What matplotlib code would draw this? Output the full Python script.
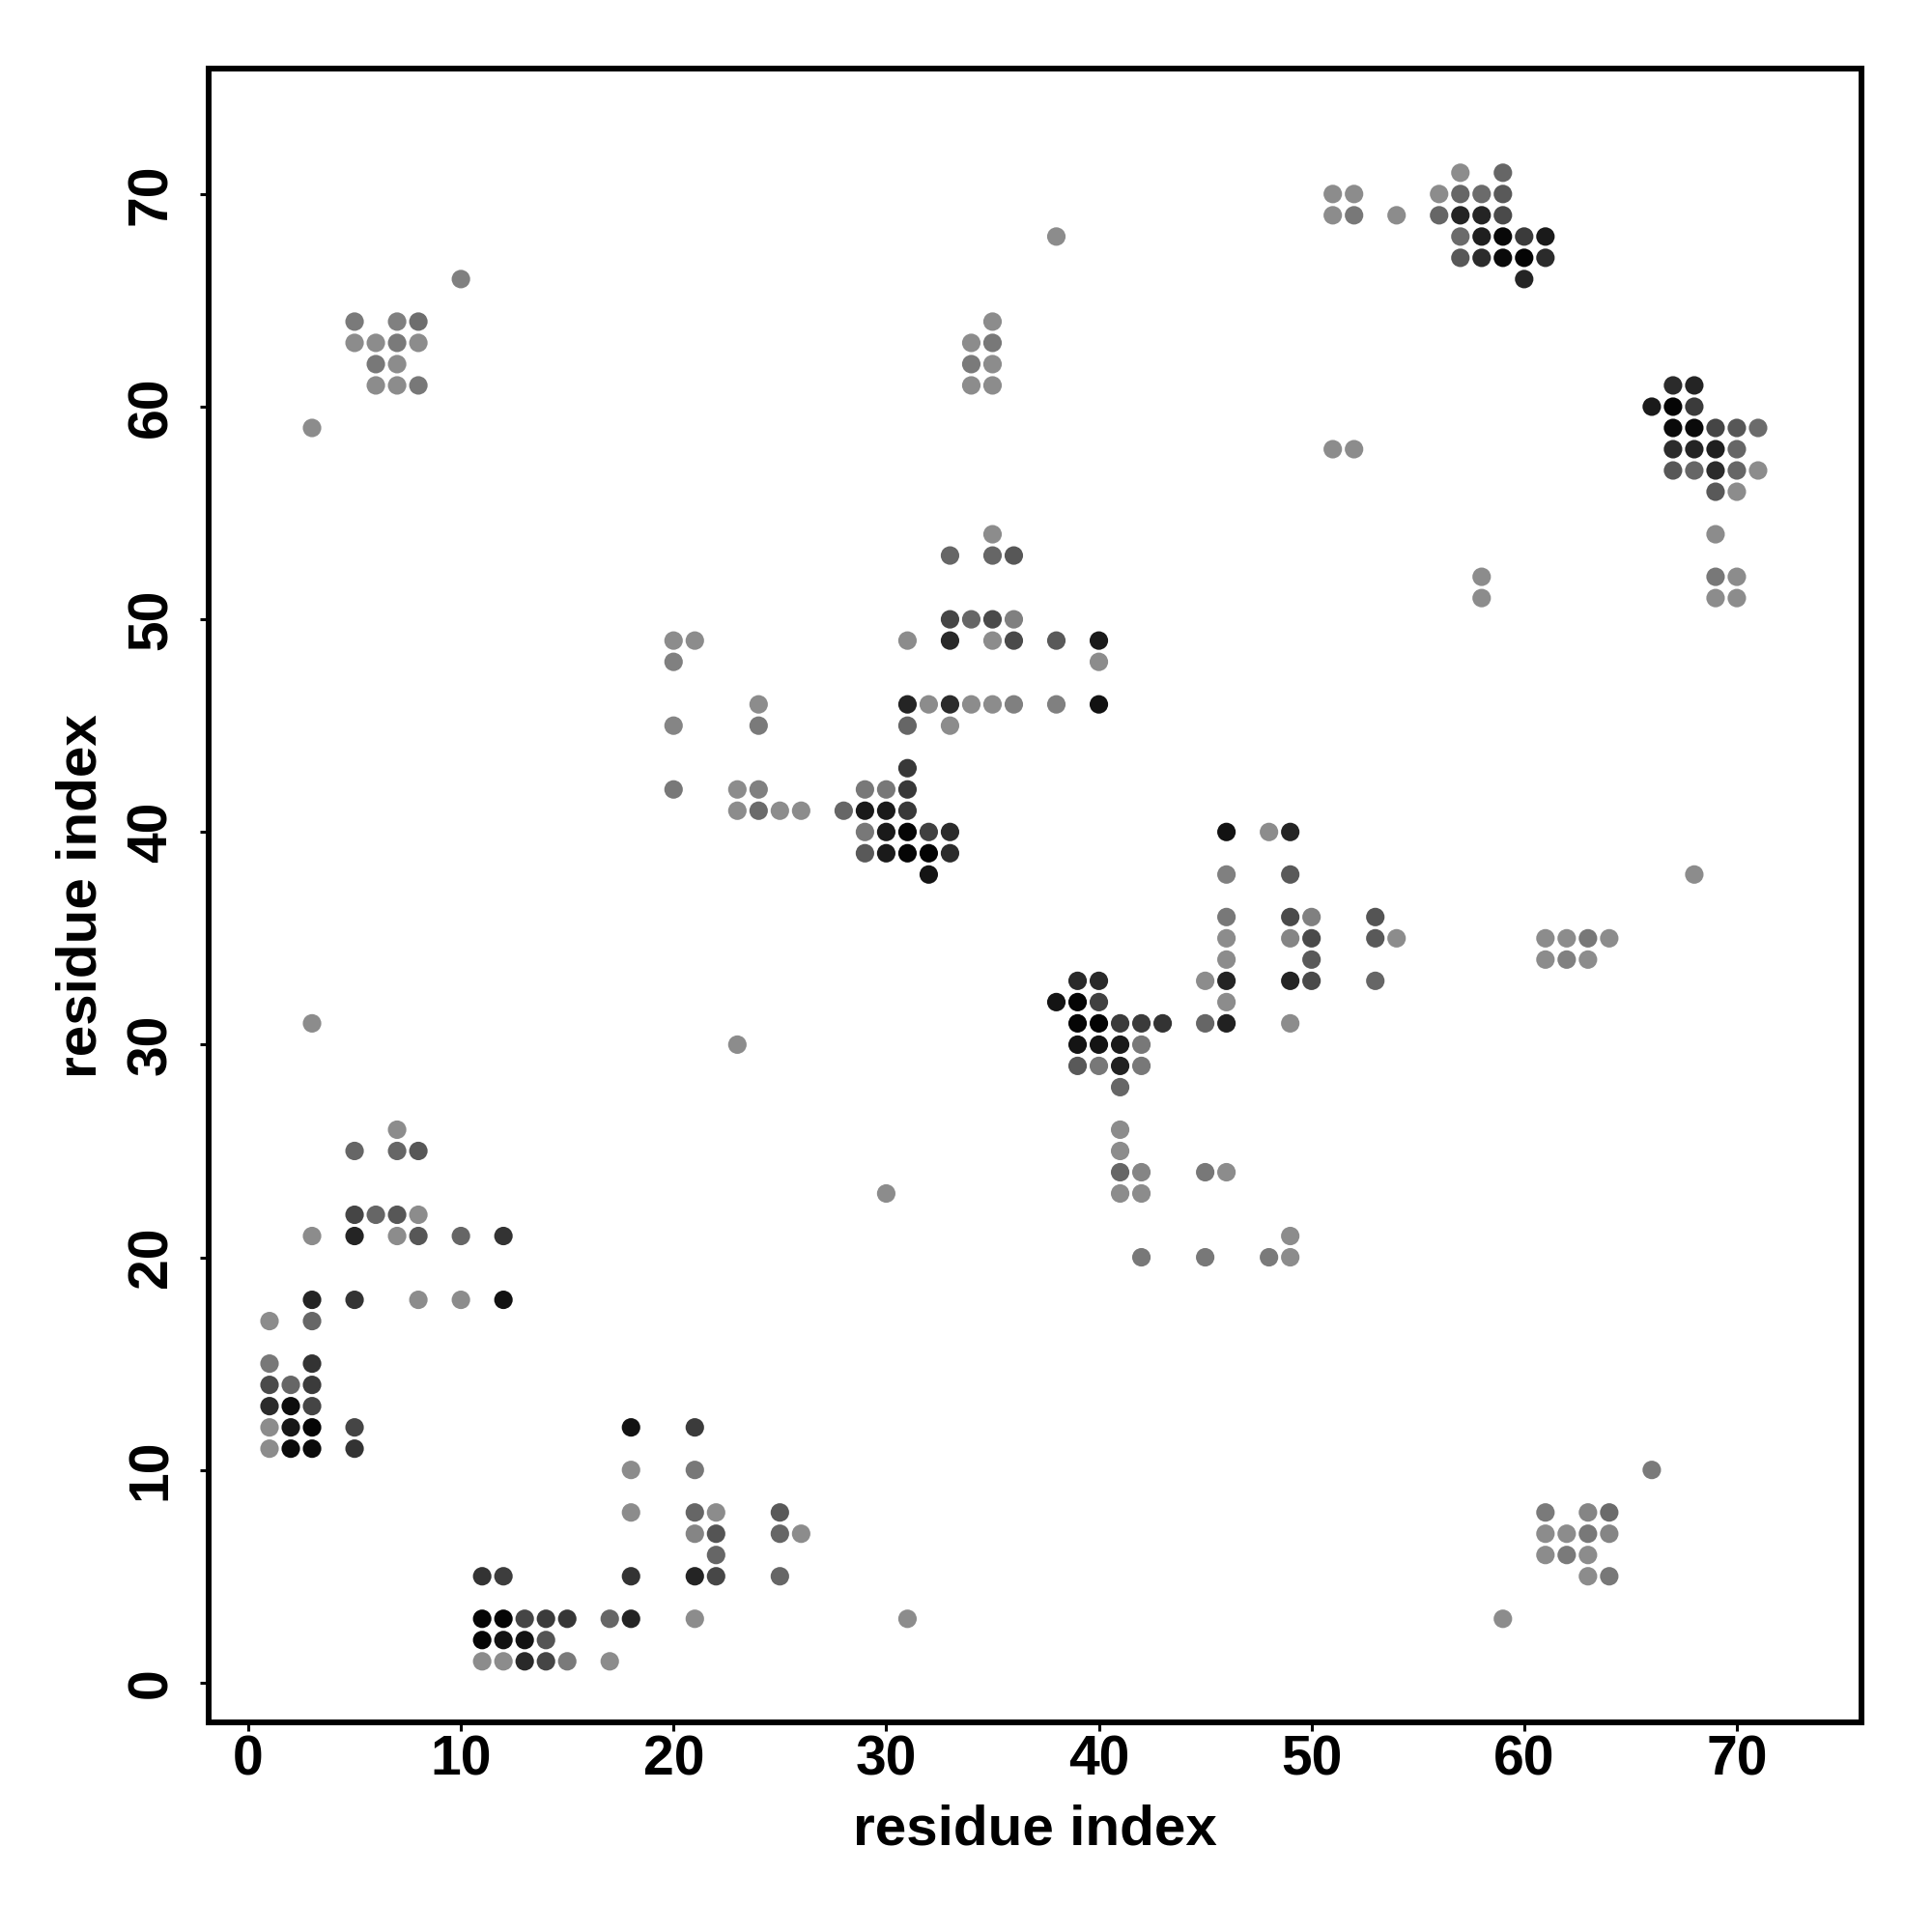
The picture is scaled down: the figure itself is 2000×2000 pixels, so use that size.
import numpy as np
import matplotlib
matplotlib.use('Agg')
import matplotlib.pyplot as plt

# contact map: for each row (residue j) the partner residues i and grey level
rows = [71, 70, 69, 68, 67, 66, 64, 63, 62, 61, 60, 59, 58, 57, 56, 54, 53,
        52, 51, 50, 49, 48, 46, 45, 43, 42, 41, 40, 39, 38, 36, 35, 34, 33,
        32, 31, 30, 29, 28, 26, 25, 24, 23, 22, 21, 20, 18, 17, 15, 14, 13,
        12, 11, 10, 8, 7, 6, 5, 3, 2, 1]

cols = [
    [57, 59],
    [51, 52, 56, 57, 58, 59],
    [51, 52, 54, 56, 57, 58, 59],
    [38, 57, 58, 59, 60, 61],
    [57, 58, 59, 60, 61],
    [10, 60],
    [5, 7, 8, 35],
    [5, 6, 7, 8, 34, 35],
    [6, 7, 34, 35],
    [6, 7, 8, 34, 35, 67, 68],
    [66, 67, 68],
    [3, 67, 68, 69, 70, 71],
    [51, 52, 67, 68, 69, 70],
    [67, 68, 69, 70, 71],
    [69, 70],
    [35, 69],
    [33, 35, 36],
    [58, 69, 70],
    [58, 69, 70],
    [33, 34, 35, 36],
    [20, 21, 31, 33, 35, 36, 38, 40],
    [20, 40],
    [24, 31, 32, 33, 34, 35, 36, 38, 40],
    [20, 24, 31, 33],
    [31],
    [20, 23, 24, 29, 30, 31],
    [23, 24, 25, 26, 28, 29, 30, 31],
    [29, 30, 31, 32, 33, 46, 48, 49],
    [29, 30, 31, 32, 33],
    [32, 46, 49, 68],
    [46, 49, 50, 53],
    [46, 49, 50, 53, 54, 61, 62, 63, 64],
    [46, 50, 61, 62, 63],
    [39, 40, 45, 46, 49, 50, 53],
    [38, 39, 40, 46],
    [3, 39, 40, 41, 42, 43, 45, 46, 49],
    [23, 39, 40, 41, 42],
    [39, 40, 41, 42],
    [41],
    [7, 41],
    [5, 7, 8, 41],
    [41, 42, 45, 46],
    [30, 41, 42],
    [5, 6, 7, 8],
    [3, 5, 7, 8, 10, 12, 49],
    [42, 45, 48, 49],
    [3, 5, 8, 10, 12],
    [1, 3],
    [1, 3],
    [1, 2, 3],
    [1, 2, 3],
    [1, 2, 3, 5, 18, 21],
    [1, 2, 3, 5],
    [18, 21, 66],
    [18, 21, 22, 25, 61, 63, 64],
    [21, 22, 25, 26, 61, 62, 63, 64],
    [22, 61, 62, 63],
    [11, 12, 18, 21, 22, 25, 63, 64],
    [11, 12, 13, 14, 15, 17, 18, 21, 31, 59],
    [11, 12, 13, 14],
    [11, 12, 13, 14, 15, 17],
]

greys = [
    [.55, .40],
    [.55, .55, .55, .40, .42, .35],
    [.55, .47, .55, .40, .14, .14, .29],
    [.55, .42, .12, .03, .23, .10],
    [.34, .17, .04, .02, .17],
    [.50, .14],
    [.48, .50, .43, .55],
    [.55, .55, .48, .55, .55, .47],
    [.47, .55, .48, .55],
    [.55, .55, .47, .55, .55, .17, .14],
    [.10, .02, .23],
    [.55, .04, .04, .27, .34, .42],
    [.55, .55, .17, .14, .12, .40],
    [.34, .40, .17, .40, .55],
    [.35, .55],
    [.55, .55],
    [.40, .40, .34],
    [.55, .47, .55],
    [.55, .55, .55],
    [.27, .40, .29, .50],
    [.55, .55, .55, .16, .55, .29, .35, .10],
    [.50, .55],
    [.55, .14, .55, .17, .55, .55, .50, .50, .07],
    [.52, .48, .40, .55],
    [.22],
    [.47, .55, .50, .47, .47, .22],
    [.55, .42, .55, .55, .40, .10, .10, .22],
    [.47, .10, .02, .25, .17, .07, .55, .14],
    [.35, .10, .02, .01, .17],
    [.08, .50, .35, .55],
    [.47, .29, .50, .33],
    [.55, .52, .29, .35, .55, .55, .55, .47, .55],
    [.55, .35, .55, .50, .55],
    [.16, .16, .55, .14, .14, .29, .40],
    [.08, .02, .25, .55],
    [.55, .02, .01, .23, .23, .20, .40, .13, .55],
    [.55, .08, .08, .10, .47],
    [.35, .47, .13, .47],
    [.40],
    [.55, .55],
    [.40, .40, .34, .55],
    [.40, .52, .47, .55],
    [.55, .55, .55],
    [.27, .40, .34, .55],
    [.55, .14, .55, .34, .40, .20, .55],
    [.47, .47, .48, .55],
    [.14, .20, .55, .55, .07],
    [.55, .40],
    [.47, .20],
    [.29, .40, .23],
    [.17, .05, .27],
    [.55, .09, .02, .27, .07, .23],
    [.55, .04, .04, .20],
    [.55, .47, .48],
    [.55, .40, .55, .35, .48, .52, .42],
    [.52, .33, .40, .55, .55, .55, .47, .52],
    [.40, .55, .48, .55],
    [.20, .24, .20, .14, .28, .40, .55, .47],
    [.02, .02, .27, .23, .21, .40, .14, .55, .55, .55],
    [.02, .07, .07, .33],
    [.55, .55, .16, .27, .48, .55],
]

ticks = [0, 10, 20, 30, 40, 50, 60, 70]

xi = np.concatenate([np.array(c, dtype=float) for c in cols])
yj = np.concatenate([np.full(len(c), r, dtype=float) for r, c in zip(rows, cols)])
g = np.concatenate([np.array(v) for v in greys])
colors = np.stack([g, g, g], axis=1)

plt.rcParams['font.family'] = 'Liberation Sans'
plt.rcParams['font.weight'] = 'bold'

fig = plt.figure(figsize=(20, 20), dpi=100)
ax = fig.add_axes([0.1078, 0.1084, 0.8559, 0.8559])

ax.scatter(xi, yj, s=190, c=colors, linewidths=0, zorder=2)

ax.set_xlim(-1.88, 75.88)
ax.set_ylim(-1.88, 75.88)
ax.set_xticks(ticks)
ax.set_yticks(ticks)
for sp in ax.spines.values():
    sp.set_linewidth(4.3)
ax.tick_params(axis='both', length=6.5, width=2.2, labelsize=41)
ax.tick_params(axis='x', pad=2)
ax.tick_params(axis='y', pad=16, labelrotation=90)
for lab in ax.get_yticklabels():
    lab.set_va('center')

fig.text(0.5355, 0.0455, 'residue index', ha='center', va='baseline',
         fontsize=42, fontweight='bold')
fig.text(0.05, 0.5364, 'residue index', ha='center', va='baseline',
         rotation=90, rotation_mode='anchor', fontsize=42, fontweight='bold')

fig.savefig('out.png', dpi=100)
